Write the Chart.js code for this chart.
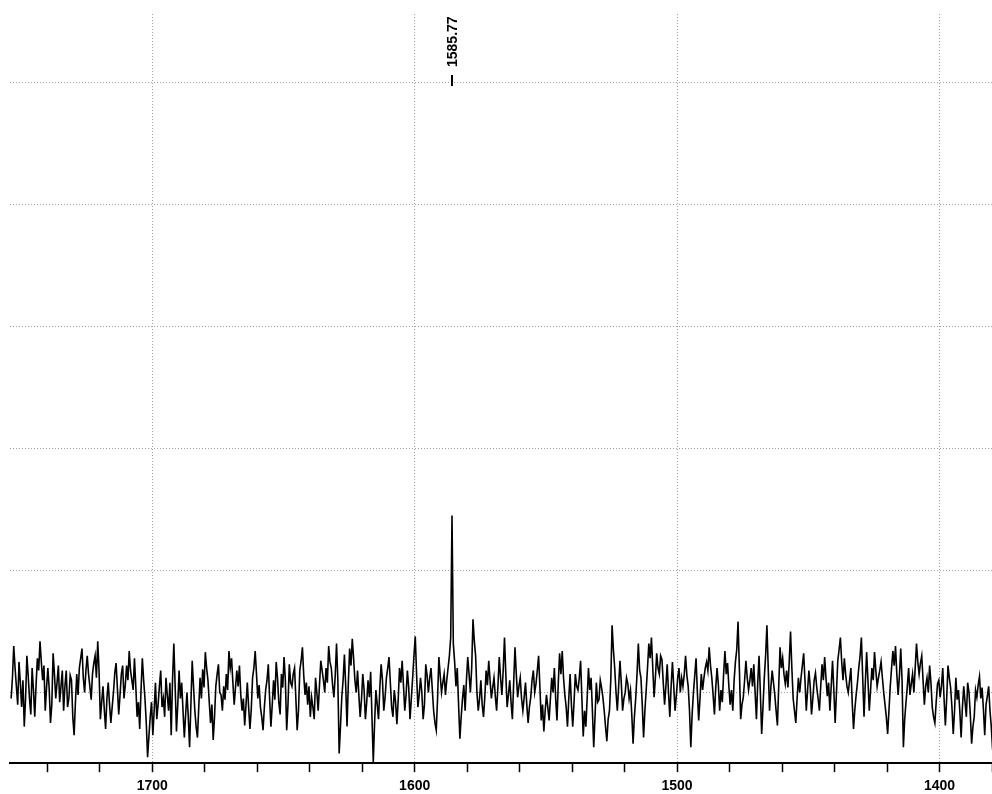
<!DOCTYPE html>
<html>
<head>
<meta charset="utf-8">
<script src="https://cdn.jsdelivr.net/npm/chart.js@4.4.1/dist/chart.umd.min.js"></script>
<style>
  html, body { margin: 0; padding: 0; background: #fff; overflow: hidden; }
  canvas { display: block; }
</style>
</head>
<body>
<!-- a little wider/taller than the window: the scale's own side padding falls outside -->
<canvas id="spectrum" width="998" height="802"></canvas>
<script>
// sampling of the spectrum (cm-1), highest wavenumber first
const waveStart = 1753.77;
const waveStep = -0.5;
const waveRange = [1379.4, 1754.2];
const intensityRange = [-58, 556];

// axis ticks / grid
const tickWaves = [1740, 1720, 1700, 1680, 1660, 1640, 1620, 1600, 1580, 1560, 1540, 1520, 1500, 1480, 1460, 1440, 1420, 1400, 1380];
const labelWaves = [1700, 1600, 1500, 1400];
const gridLevels = [0, 100, 200, 300, 400, 500];

// picked peaks
const peakWaves = [1585.77];
const peakTexts = ['1585.77'];

// intensity, one value per sample (20 cm-1 per row)
const intensity = [
  -5, 12, 38, 20, 5, -10, 25, 8, -12, 10, -28, -5, 30, 14, -5, -18, 20, 2, -20, 6, 28, 18, 42, 25, 10, 22, -15, 4, 20, 3, -25, -10, 32, 15, -5, 8, 22, -8, 5, 18,
  -15, 5, 18, -12, -5, 14, 10, -20, -35, -8, 15, -2, 20, 28, 36, 12, 0, 18, 30, 15, 5, -6, 15, 24, 30, 12, 42, 18, -22, -8, 5, -14, -30, -5, 8, -10, -25, -12, 0, 16,
  24, 3, -18, -2, 15, 22, -5, 6, 22, 10, 34, 18, 10, 2, 28, 5, -20, -8, -30, 2, 28, 10, -5, -25, -53, -36, -20, -8, -35, -15, 8, -22, -10, 5, 18, -12, -5, -20, 12, -2,
  -15, 8, -35, 10, 40, 5, -32, -10, 18, -5, 8, -15, -37, -18, 0, -20, -45, -10, 26, 5, -15, -28, -37, -12, 12, -5, 19, 4, 33, 20, 10, -8, -25, -10, -39, -20, 5, 15, 23, 0,
  -2, -15, 5, -6, 15, 2, 34, 20, 28, 8, -10, 4, 18, 5, 22, -2, -15, -5, -27, -10, 8, -12, -30, -14, 12, 20, 34, 15, -5, 6, -12, -20, -31, -12, 2, 10, 23, -5, -28, -10,
  10, -6, 25, 12, -8, -18, 15, 4, 29, 10, -31, -10, 23, 8, 5, 15, 20, -5, -31, -15, 18, 26, 37, 14, -2, 8, -10, 5, -20, -4, -12, -22, 12, 0, -15, 6, 26, 18, 10, 0,
  20, 8, 38, 25, 20, 6, -4, 14, 40, 10, -50, -28, -4, 10, 31, 5, -28, 8, 36, 22, 44, 28, 10, 0, 18, -2, -20, -6, 15, 2, -22, -8, 10, -4, 17, -20, -57, -25, 2, -10,
  -22, 4, 23, 10, -15, -4, 12, 20, 29, 8, -12, -20, 2, -8, -26, -6, 20, 8, 26, 6, -15, -2, 18, 4, -22, -5, 12, 30, 46, 15, -12, -2, 12, 0, -22, -10, 23, 14, 0, 12,
  20, 2, -15, -25, -31, -5, 29, 14, 0, 8, 15, -2, 10, 20, 30, 45, 145, 40, 25, 5, 20, -10, -38, -20, -5, 6, -15, 10, 29, 15, 0, 20, 60, 42, 30, 0, -15, -5, 10, -10,
  -20, -4, 18, 6, 26, 10, -5, 4, 12, -3, -15, 5, 29, 12, -2, 18, 45, 15, -12, -2, 10, -8, -22, 8, 37, 15, -4, 5, 12, -5, -15, -4, 8, -10, -25, -12, -4, 10, 18, 0,
  7, 18, 30, 4, -23, -10, -32, -15, -2, -12, -23, -5, 12, 0, 20, -5, -23, 8, 32, 15, 34, 12, -2, -12, -28, -5, 15, -10, -28, -8, 15, 5, 2, 12, 26, -5, -36, -15, -28, -5,
  20, 2, 12, -15, -45, -20, 8, -8, -6, 10, 4, -4, -15, -28, -40, -22, -15, 10, 55, 35, 20, 0, -15, 5, 26, 8, -15, -5, 0, 12, 7, -5, 2, -18, -42, -20, -5, 15, 40, 18,
  12, -10, -37, -15, 2, 20, 40, 28, 45, 20, -4, 12, 32, 20, 15, 30, 27, 8, -10, 5, 23, 0, -20, 5, 25, 5, -15, -2, 12, 20, 0, 12, 5, 15, 30, 14, 5, -15, -45, -18,
  0, 14, 28, 0, -23, -5, 15, 2, 12, 20, 25, 18, 37, 22, 12, -2, -18, 4, 20, 6, -15, 2, -8, 15, 34, 15, 24, 5, -10, 2, -15, 10, 25, 35, 58, 20, -22, -10, -4, 10,
  26, 12, 2, 10, 20, 5, 23, 0, -22, 8, 30, 0, -34, -12, 12, 30, 55, 20, -15, 4, 18, 8, -2, -15, -27, 5, 37, 20, 28, 15, 7, 18, 4, 25, 50, 20, -5, -15, -25, -5,
  12, 0, 12, 22, 32, 10, -15, 2, 18, 5, -18, -5, 10, 16, 4, -5, -15, 5, 23, 10, 29, 12, -3, 8, -15, 5, 26, 2, -25, 0, 26, 35, 45, 25, 10, 28, 15, 5, 0, 10,
  20, -8, -30, -14, -2, 8, 20, 30, 45, 12, -20, 8, 33, 10, -15, 2, 20, 10, 33, 18, 5, 12, 18, 25, 12, 0, -10, -20, -34, -15, 5, 20, 34, 22, 38, 15, -2, 14, 36, 10,
  -45, -22, -8, 5, 20, -2, 7, 15, 0, 20, 40, 25, 15, 24, 30, 10, -10, 5, 12, 0, 22, 8, -12, -20, -25, -8, 7, 10, -4, 5, 20, -5, -27, -5, 22, 12, 4, -12, -34, -15,
  12, -6, 2, -15, -37, -12, 5, -8, -20, 8, 0, -18, -42, -28, -20, 2, -4, 6, 13, -5, 4, -14, -35, -10, -3, 5, -15, -28, -47
];

const points = intensity.map((v, i) => ({ x: +(waveStart + i * waveStep).toFixed(2), y: v }));

const labelFont = { family: "'Liberation Sans', Arial, sans-serif", size: 14, weight: 'bold' };
const gridGray = '#a0a0a0';

// vertical peak labels with a short marker line
const peakMarker = {
  id: 'peakMarker',
  afterDatasetsDraw(chart) {
    const { ctx, chartArea, scales } = chart;
    peakWaves.forEach((w, k) => {
      const x = Math.round(scales.x.getPixelForValue(w));
      ctx.save();
      ctx.strokeStyle = '#000';
      ctx.lineWidth = 2;
      ctx.beginPath();
      ctx.moveTo(x, chartArea.top + 61);
      ctx.lineTo(x, chartArea.top + 72);
      ctx.stroke();
      ctx.translate(x + 1, chartArea.top + 53);
      ctx.rotate(-Math.PI / 2);
      ctx.fillStyle = '#000';
      ctx.font = "bold 14px 'Liberation Sans', Arial, sans-serif";
      ctx.textAlign = 'left';
      ctx.textBaseline = 'middle';
      ctx.fillText(peakTexts[k], 0, 0);
      ctx.restore();
    });
  }
};

new Chart(document.getElementById('spectrum'), {
  type: 'line',
  data: {
    datasets: [{
      data: points,
      borderColor: '#000',
      borderWidth: 1.6,
      pointRadius: 0,
      tension: 0,
      fill: false
    }]
  },
  options: {
    responsive: false,
    animation: false,
    layout: { padding: { left: 10, right: 0, top: 14, bottom: 1 } },
    plugins: { legend: { display: false }, tooltip: { enabled: false } },
    scales: {
      x: {
        type: 'linear',
        reverse: true,
        min: waveRange[0],
        max: waveRange[1],
        afterBuildTicks: s => { s.ticks = tickWaves.map(v => ({ value: v })); },
        ticks: {
          autoSkip: false,
          maxRotation: 0,
          padding: 6,
          color: '#000',
          font: labelFont,
          callback: v => labelWaves.includes(v) ? String(v) : ''
        },
        grid: {
          color: c => (c.tick && labelWaves.includes(c.tick.value)) ? gridGray : 'rgba(0,0,0,0)',
          lineWidth: 1,
          tickColor: '#000',
          tickLength: 9,
          tickWidth: 1.5
        },
        border: { display: true, color: '#000', width: 2, dash: [1, 2] }
      },
      y: {
        min: intensityRange[0],
        max: intensityRange[1],
        afterBuildTicks: s => { s.ticks = gridLevels.map(v => ({ value: v })); },
        ticks: { display: false },
        grid: { color: gridGray, lineWidth: 1, drawTicks: false },
        border: { display: false, dash: [1, 2] }
      }
    }
  },
  plugins: [peakMarker]
});
</script>
</body>
</html>
